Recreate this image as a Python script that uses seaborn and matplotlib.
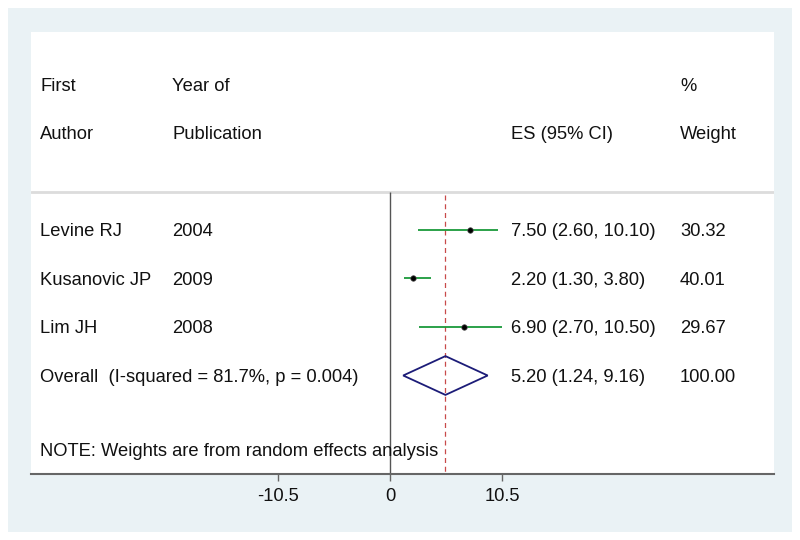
import numpy as np
import pandas as pd
import seaborn as sns
import matplotlib.pyplot as plt
from matplotlib.patches import Rectangle, Polygon

# data
authors = ['Levine RJ', 'Kusanovic JP', 'Lim JH']
years = ['2004', '2009', '2008']
es = [7.50, 2.20, 6.90]
lo = [2.60, 1.30, 2.70]
hi = [10.10, 3.80, 10.50]
weights = [30.32, 40.01, 29.67]
overall = [5.20, 1.24, 9.16]
overall_label = 'Overall  (I-squared = 81.7%, p = 0.004)'
overall_weight = 100.00
xticks = [-10.5, 0, 10.5]

df = pd.DataFrame({'author': authors, 'year': years, 'es': es,
                   'lo': lo, 'hi': hi, 'weight': weights})
df['row'] = np.arange(len(df))

sns.set_theme(style='white')
plt.rcParams['font.family'] = ['Liberation Sans', 'DejaVu Sans']
plt.rcParams['text.color'] = '#111111'
plt.rcParams['xtick.color'] = '#111111'

fig = plt.figure(figsize=(8, 5.4), dpi=100)
fig.patch.set_facecolor('white')
fig.patches.append(Rectangle((8 / 800, 8 / 540), 784 / 800, 524 / 540,
                             transform=fig.transFigure, facecolor='#eaf2f5',
                             edgecolor='none', zorder=-10))

ax = fig.add_axes([31 / 800, 66 / 540, 743 / 800, 442 / 540])
ax.set_facecolor('white')
ax.set_xlim(-33.65, 36.0)
ax.set_ylim(5.03, -4.08)

fs = 13.2
dy = 0.04  # text sits a hair below the marks
x_author, x_year, x_es, x_w = -32.8, -20.4, 11.35, 27.2

# header
ax.text(x_author, -3.0 + dy, 'First', fontsize=fs, va='center')
ax.text(x_author, -2.0 + dy, 'Author', fontsize=fs, va='center')
ax.text(x_year, -3.0 + dy, 'Year of', fontsize=fs, va='center')
ax.text(x_year, -2.0 + dy, 'Publication', fontsize=fs, va='center')
ax.text(x_es, -2.0 + dy, 'ES (95% CI)', fontsize=fs, va='center')
ax.text(x_w, -3.0 + dy, '%', fontsize=fs, va='center')
ax.text(x_w, -2.0 + dy, 'Weight', fontsize=fs, va='center')
ax.axhline(-0.78, color='#dcdcdc', lw=2)

# reference lines
ax.vlines(0, -0.78, 5.03, color='#555555', lw=1)
ax.vlines(overall[0], -0.72, 5.03, color='#c84a4a', lw=0.9, linestyles=(0, (4, 3)))

# study rows
ax.hlines(df['row'], df['lo'], df['hi'], color='#1a9a3a', lw=1.3, zorder=3)
sns.scatterplot(data=df, x='es', y='row', ax=ax, color='black', s=16,
                edgecolor='#555555', linewidth=0.5, zorder=4, legend=False)
for _, r in df.iterrows():
    y = r['row'] + dy
    ax.text(x_author, y, r['author'], fontsize=fs, va='center')
    ax.text(x_year, y, r['year'], fontsize=fs, va='center')
    ax.text(x_es, y, f"{r['es']:.2f} ({r['lo']:.2f}, {r['hi']:.2f})", fontsize=fs, va='center')
    ax.text(x_w, y, f"{r['weight']:.2f}", fontsize=fs, va='center')

# overall diamond
yo = len(df)
diamond = Polygon([(overall[1], yo), (overall[0], yo - 0.4), (overall[2], yo), (overall[0], yo + 0.4)],
                  closed=True, facecolor='none', edgecolor='#1c1c78', lw=1.3, zorder=3)
ax.add_patch(diamond)
ax.text(x_author, yo + dy, overall_label, fontsize=fs, va='center')
ax.text(x_es, yo + dy, f"{overall[0]:.2f} ({overall[1]:.2f}, {overall[2]:.2f})", fontsize=fs, va='center')
ax.text(x_w, yo + dy, f"{overall_weight:.2f}", fontsize=fs, va='center')

ax.text(x_author, 4.56, 'NOTE: Weights are from random effects analysis', fontsize=fs, va='center')

# axis
for s in ['top', 'left', 'right']:
    ax.spines[s].set_visible(False)
ax.spines['bottom'].set_color('#666666')
ax.spines['bottom'].set_linewidth(1.5)
ax.set_yticks([])
ax.set_xticks(xticks)
ax.set_xticklabels(['-10.5', '0', '10.5'], fontsize=fs)
ax.tick_params(axis='x', bottom=True, length=5, width=1, color='#666666', labelcolor='#111111', pad=5)
ax.set_xlabel('')
ax.set_ylabel('')

fig.savefig('out.png', dpi=100, facecolor=fig.get_facecolor())
